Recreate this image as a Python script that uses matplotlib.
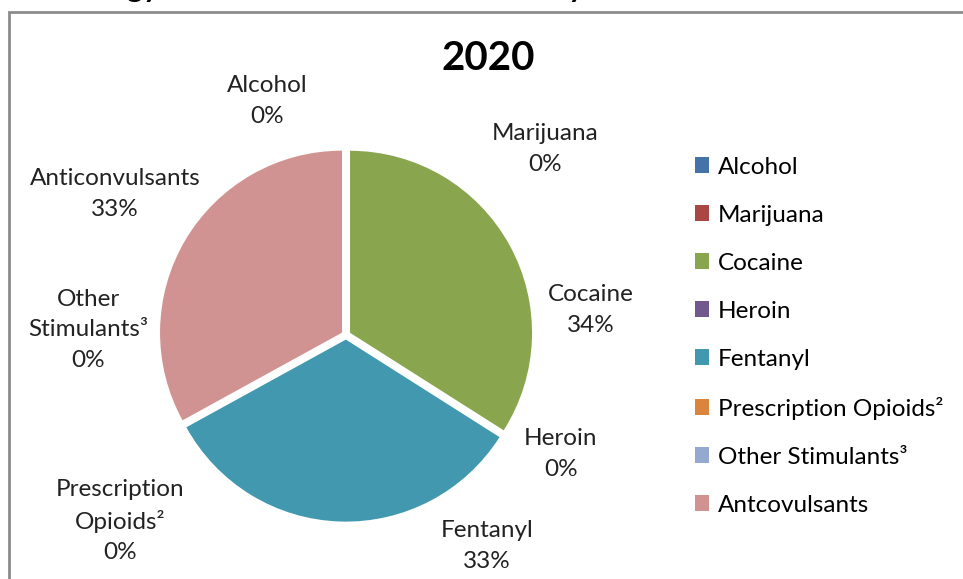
import matplotlib.pyplot as plt
from matplotlib.patches import Rectangle

plt.rcParams['font.family'] = ['Lato', 'DejaVu Sans']

# data
drugs = ["Alcohol", "Marijuana", "Cocaine", "Heroin", "Fentanyl",
         "Prescription Opioids\u00b2", "Other Stimulants\u00b3", "Antcovulsants"]
pie_labels = ["Alcohol", "Marijuana", "Cocaine", "Heroin", "Fentanyl",
              "Prescription\nOpioids\u00b2", "Other\nStimulants\u00b3", "Anticonvulsants"]
share = [0, 0, 34, 0, 33, 0, 0, 33]
colors = ["#4572A7", "#AA4643", "#89A54E", "#71588F", "#4198AF",
          "#DB843D", "#93A9CF", "#D19392"]

W, H = 963, 579
fig = plt.figure(figsize=(W / 100, H / 100), dpi=100)

# frame of the chart (only left and top visible)
fig.patches.append(Rectangle((9 / W, -0.1), 1.2, 1 - 12 / H + 0.1,
                             transform=fig.transFigure, fill=False,
                             edgecolor="#8c8c8c", linewidth=2))

# cut-off heading above the frame
fig.text(160 / W, 1 + 3 / H, "Toxicology", ha="right", va="baseline",
         fontsize=22, fontweight="bold")
fig.text(584 / W, 1 + 3 / H, "by", ha="right", va="baseline",
         fontsize=22, fontweight="bold")

# pie axes: 400 px square centred on the pie
cx, cy = 346, 335
ax = fig.add_axes([(cx - 200) / W, (H - cy - 200) / H, 400 / W, 400 / H])

wedges, _ = ax.pie(share, colors=colors, startangle=90, counterclock=False,
                   radius=0.91, explode=[0.023] * len(share),
                   wedgeprops=dict(linewidth=0))
ax.set_xlim(-1, 1)
ax.set_ylim(-1, 1)
ax.axis("off")

# data labels
label_pos = [(267, 101), (545, 149), (591, 310), (561, 454),
             (487, 546), (120, 521), (88, 330), (115, 194)]
for name, val, (px, py) in zip(pie_labels, share, label_pos):
    fig.text(px / W, 1 - py / H, f"{name}\n{val}%", ha="center", va="center",
             fontsize=17.5, linespacing=1.55, color="#222222")

fig.text(488 / W, 1 - 58 / H, "2020", ha="center", va="center",
         fontsize=29, fontweight="bold")

leg = fig.legend(wedges, drugs, loc="upper left",
                 bbox_to_anchor=(685 / W, 1 - 147 / H), frameon=False,
                 fontsize=17.5, handlelength=0.6, handleheight=0.6,
                 handletextpad=0.35, labelspacing=1.11, borderaxespad=0)

fig.savefig("out.png", dpi=100)
